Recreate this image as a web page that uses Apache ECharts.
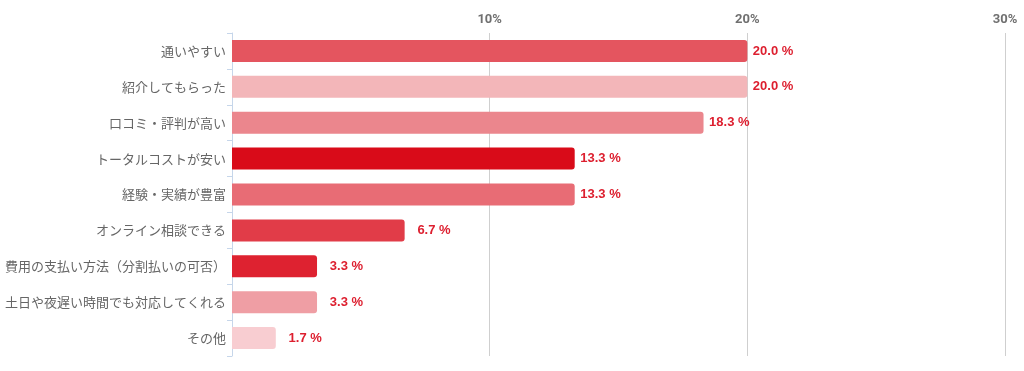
<!DOCTYPE html>
<html><head><meta charset="utf-8">
<script src="https://cdn.jsdelivr.net/npm/echarts@6/dist/echarts.min.js"></script>
<style>html,body{margin:0;padding:0;background:#fff;}#c{width:1024px;height:371px;}</style>
</head><body><div id="c"></div>
<script>
const categories = ["通いやすい","紹介してもらった","口コミ・評判が高い","トータルコストが安い","経験・実績が豊富","オンライン相談できる","費用の支払い方法（分割払いの可否）","土日や夜遅い時間でも対応してくれる","その他"];
const values = [20.0, 20.0, 18.3, 13.3, 13.3, 6.7, 3.3, 3.3, 1.7];
const barColors = ["#e4555f","#f3b6b9","#eb868d","#d90b19","#e86c75","#e13c48","#de2230","#ef9ea4","#f8cdd1"];
const xTicks = [0, 10, 20, 30];

const chart = echarts.init(document.getElementById('c'));
const jp = '"Noto Sans CJK JP", "Noto Sans", sans-serif';
chart.setOption({
  animation: false,
  grid: {left: 232, right: 19, top: 33, bottom: 15, containLabel: false},
  xAxis: {
    type: 'value', position: 'top', min: xTicks[0], max: xTicks[xTicks.length-1], interval: 10,
    axisLine: {show: false}, axisTick: {show: false},
    splitLine: {show: true, lineStyle: {color: '#cfcfcf', width: 1}},
    axisLabel: {
      margin: 7, color: '#707070', fontSize: 13, fontWeight: 'bold', fontFamily: 'Roboto, sans-serif',
      formatter: v => v === 0 ? '' : v + '%'
    }
  },
  yAxis: {
    type: 'category', inverse: true, data: categories,
    axisLine: {show: true, lineStyle: {color: '#c6d6ea', width: 1}},
    axisTick: {show: true, length: 5, lineStyle: {color: '#c6d6ea'}},
    axisLabel: {margin: 6, color: '#666', fontSize: 13, fontFamily: jp}
  },
  series: [{
    type: 'bar', barWidth: 22,
    data: values.map((v, i) => ({value: v, itemStyle: {color: barColors[i]}})),
    itemStyle: {borderRadius: [0, 3, 3, 0]},
    label: {
      show: true, position: 'right', distance: 5,
      formatter: p => '{v|' + p.value.toFixed(1) + ' %}',
      rich: {v: {width: 41, align: 'right', color: '#dd1f2f', fontSize: 13, fontWeight: 'bold', fontFamily: '"Liberation Sans", Arial, sans-serif'}}
    }
  }]
});
</script></body></html>
